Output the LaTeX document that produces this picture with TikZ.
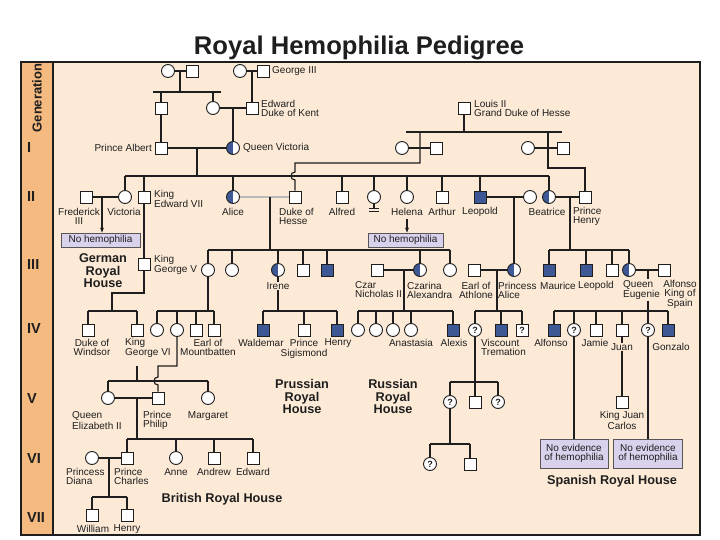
\documentclass[tikz,border=0pt]{standalone}
\usepackage{fontspec}
\setmainfont{Liberation Sans}
\usetikzlibrary{arrows.meta}
\pgfdeclarelayer{back}
\pgfdeclarelayer{lines}
\pgfsetlayers{back,lines,main}
\definecolor{peach}{RGB}{252,234,214}
\definecolor{orangecol}{RGB}{245,186,128}
\definecolor{hemo}{RGB}{62,88,150}
\definecolor{lav}{RGB}{218,210,236}
\definecolor{ink}{RGB}{30,30,30}
\newcommand\dropto[2]{\draw (#1) -- (#1 |- #2);}
\begin{document}
\begin{tikzpicture}[x=1pt,y=-1pt,
 sq/.style={draw=ink,line width=0.9pt,fill=white,minimum size=12pt,inner sep=0pt},
 ci/.style={draw=ink,line width=0.9pt,fill=white,circle,minimum size=13pt,inner sep=0pt},
 aff/.style={fill=hemo},
 car/.style={path picture={\fill[hemo] (path picture bounding box.south west) rectangle (path picture bounding box.north);}},
 unk/.style={font=\fontsize{9}{9}\selectfont\bfseries,text=ink},
 lbl/.style={font=\fontsize{10}{9}\selectfont,inner sep=0pt,text=ink},
 lc/.style={lbl,align=center},
 ll/.style={lbl,align=left,anchor=west},
 lr/.style={lbl,align=right,anchor=east},
 bgl/.style={fill=peach,inner sep=1pt},
 nobox/.style={draw=ink!75,fill=lav,line width=0.9pt,font=\fontsize{10}{9.5}\selectfont,align=center,inner sep=1pt,text=ink},
 house/.style={font=\fontsize{12.7}{12.5}\selectfont\bfseries,align=center,text=ink},
 genl/.style={font=\fontsize{14.5}{14.5}\selectfont\bfseries,anchor=west,text=ink,inner sep=0pt},
 lk/.style={draw=ink,line width=1.2pt},
 thk/.style={line width=2.4pt},
 arr/.style={-{Stealth[length=5pt,width=4pt]}},
]
\useasboundingbox (0,0) rectangle (720,540);
\begin{pgfonlayer}{back}
\fill[white] (0,0) rectangle (720,540);
\fill[peach] (21,62) rectangle (700,535);
\fill[orangecol] (21,62) rectangle (53,535);
\draw[ink,line width=1.2pt] (53,62) -- (53,535);
\draw[ink,line width=1.2pt] (21,62) rectangle (700,535);
\end{pgfonlayer}

% title and generation column
\node[font=\fontsize{25.6}{26}\selectfont\bfseries,text=ink,anchor=base] (title) at (359,55) {Royal Hemophilia Pedigree};
\node[rotate=90,font=\fontsize{13}{13}\selectfont\bfseries,text=ink] (gentitle) at (37,98) {Generation};
\node[genl] (gI) at (27,148) {I};
\node[genl] (gII) at (27,197) {II};
\node[genl] (gIII) at (27,265) {III};
\node[genl] (gIV) at (27,329) {IV};
\node[genl] (gV) at (27,399) {V};
\node[genl] (gVI) at (27,459) {VI};
\node[genl] (gVII) at (27,518) {VII};

% generation 0
\node[ci] (a1) at (168,71) {};
\node[sq] (a2) at (192,71) {};
\node[ci] (a3) at (240,71) {};
\node[sq] (g3) at (263,71) {};
\node[ll] (g3l) at (272,71) {George III};
\node[sq] (b1) at (161,108) {};
\node[ci] (b2) at (213,108) {};
\node[sq] (kent) at (252,108) {};
\node[ll] (kentl) at (261,108) {Edward\\Duke of Kent};
\node[sq] (louis) at (464,108) {};
\node[ll] (louisl) at (474,108) {Louis II\\Grand Duke of Hesse};

% generation I
\node[sq] (albert) at (161,148) {};
\node[lr] (albertl) at (152,148) {Prince Albert};
\node[ci,car] (qv) at (233,148) {};
\node[ll] (qvl) at (243,148) {Queen Victoria};
\node[ci] (h1) at (402,148) {};
\node[sq] (h2) at (436,148) {};
\node[ci] (h3) at (528,148) {};
\node[sq] (h4) at (563,148) {};

% generation II
\node[sq] (fred) at (86,197) {};
\node[ci] (vicg) at (125,197) {};
\node[sq] (edw7) at (144,197) {};
\node[ci,car] (alice) at (233,197) {};
\node[sq] (dukeh) at (295,197) {};
\node[sq] (alfred) at (342,197) {};
\node[ci] (nn) at (374,197) {};
\node[ci] (helena) at (407,197) {};
\node[sq] (arthur) at (442,197) {};
\node[sq,aff] (leo) at (480,197) {};
\node[ci] (leow) at (530,197) {};
\node[ci,car] (beat) at (549,197) {};
\node[sq] (henry) at (585,197) {};
\node[lc] (fredl) at (79,216.5) {Frederick\\III};
\node[lc] (vicgl) at (124,212) {Victoria};
\node[ll] (edw7l) at (154,199) {King\\Edward VII};
\node[lc] (alicel) at (233,212) {Alice};
\node[ll] (dukehl) at (279,216.5) {Duke of\\Hesse};
\node[lc] (alfredl) at (342,212) {Alfred};
\node[lc] (helenal) at (407,212) {Helena};
\node[lc] (arthurl) at (442,212) {Arthur};
\node[lc] (leol) at (480,212) {Leopold};
\node[lc] (beatl) at (547,212) {Beatrice};
\node[ll] (henryl) at (573,216.5) {Prince\\Henry};
\node[nobox,minimum width=79pt,minimum height=14pt] (nob1) at (100.5,240) {No hemophilia};
\node[nobox,minimum width=75pt,minimum height=14pt] (nob2) at (405.5,240) {No hemophilia};

% houses
\node[house] (german) at (103,271) {German\\Royal\\House};
\node[house] (prus) at (302,396.5) {Prussian\\Royal\\House};
\node[house] (russ) at (393,396.5) {Russian\\Royal\\House};
\node[house] (brit) at (222,499) {British Royal House};
\node[house] (span) at (612,481) {Spanish Royal House};

% generation III
\node[sq] (geo5) at (144,264) {};
\node[ll] (geo5l) at (154,265) {King\\George V};
\node[ci] (vich) at (208,270) {};
\node[ci] (ella) at (232,270) {};
\node[ci,car] (irene) at (278,270) {};
\node[sq] (ernst) at (303,270) {};
\node[sq,aff] (fritz) at (327,270) {};
\node[sq] (czar) at (377,270) {};
\node[ci,car] (czarina) at (420,270) {};
\node[ci] (c3) at (450,270) {};
\node[sq] (athl) at (474,270) {};
\node[ci,car] (palice) at (514,270) {};
\node[sq,aff] (maur) at (549,270) {};
\node[sq,aff] (leob) at (586,270) {};
\node[sq] (sqb) at (612,270) {};
\node[ci,car] (eug) at (629,270) {};
\node[sq] (alf13) at (664,270) {};
\node[lc,bgl] (irenel) at (278,286) {Irene};
\node[ll] (czarl) at (355,290) {Czar\\Nicholas II};
\node[ll] (czarinal) at (407,290) {Czarina\\Alexandra};
\node[lc] (athll) at (476,290) {Earl of\\Athlone};
\node[ll] (palicel) at (498,290) {Princess\\Alice};
\node[lc] (maurl) at (558,286) {Maurice};
\node[lc] (leobl) at (596,286) {Leopold};
\node[ll,bgl] (eugl) at (622,290) {Queen\\Eugenie};
\node[lc] (alf13l) at (680,294.5) {Alfonso\\King of\\Spain};

% generation IV
\node[sq] (windsor) at (88,330) {};
\node[sq] (geo6) at (137,330) {};
\node[ci] (bc1) at (157,330) {};
\node[ci] (aliceb) at (177,330) {};
\node[sq] (bs1) at (196,330) {};
\node[sq] (mountb) at (214,330) {};
\node[sq,aff] (wald) at (263,330) {};
\node[sq] (sigis) at (304,330) {};
\node[sq,aff] (henryh) at (337,330) {};
\node[ci] (r1) at (358,330) {};
\node[ci] (r2) at (376,330) {};
\node[ci] (r3) at (393,330) {};
\node[ci] (r4) at (411,330) {};
\node[sq,aff] (alexis) at (453,330) {};
\node[ci,unk] (qa) at (475,330) {?};
\node[sq,aff] (visc) at (501,330) {};
\node[sq,unk] (qsq) at (522,330) {?};
\node[sq,aff] (alfs) at (554,330) {};
\node[ci,unk] (qs1) at (574,330) {?};
\node[sq] (jaime) at (596,330) {};
\node[sq] (juan) at (622,330) {};
\node[ci,unk] (qs2) at (648,330) {?};
\node[sq,aff] (gonz) at (668,330) {};
\node[lc] (windsorl) at (92,347.5) {Duke of\\Windsor};
\node[ll] (geo6l) at (125,347.5) {King\\George VI};
\node[lc] (mountbl) at (208,347.5) {Earl of\\Mountbatten};
\node[lc] (waldl) at (261,343) {Waldemar};
\node[lc] (sigisl1) at (304,342.5) {Prince};
\node[lc] (sigisl2) at (304,353.5) {Sigismond};
\node[lc] (henryhl) at (338,343) {Henry};
\node[lc] (anastl) at (411,343) {Anastasia};
\node[lc] (alexisl) at (454,343) {Alexis};
\node[ll] (viscl) at (481,347.5) {Viscount\\Tremation};
\node[lc] (alfsl) at (551,343) {Alfonso};
\node[lc] (jaimel) at (595,343) {Jamie};
\node[lc,bgl] (juanl) at (622,347) {Juan};
\node[lc] (gonzl) at (671,347) {Gonzalo};

% generation V
\node[ci] (eliz) at (108,398) {};
\node[sq] (philip) at (158,398) {};
\node[ci] (marg) at (208,398) {};
\node[ll] (elizl) at (72,420.5) {Queen\\Elizabeth II};
\node[ll] (philipl) at (143,420.5) {Prince\\Philip};
\node[lc] (margl) at (208,416) {Margaret};
\node[ci,unk] (qv1) at (450,402) {?};
\node[sq] (sqv) at (475,402) {};
\node[ci,unk] (qv2) at (498,402) {?};
\node[sq] (jc) at (622,402) {};
\node[lc] (jcl) at (622,420.5) {King Juan\\Carlos};

% generation VI
\node[ci] (diana) at (92,458) {};
\node[sq] (charles) at (127,458) {};
\node[ci] (anne) at (176,458) {};
\node[sq] (andrew) at (214,458) {};
\node[sq] (edwardw) at (253,458) {};
\node[ll] (dianal) at (66,476.5) {Princess\\Diana};
\node[ll] (charlesl) at (114,476.5) {Prince\\Charles};
\node[lc] (annel) at (176,472) {Anne};
\node[lc] (andrewl) at (214,472) {Andrew};
\node[lc] (edwardwl) at (253,472) {Edward};
\node[ci,unk] (qw1) at (430,464) {?};
\node[sq] (sqw) at (470,464) {};
\node[nobox,minimum width=68pt,minimum height=29pt] (neb1) at (574,453.5) {No evidence\\of hemophilia};
\node[nobox,minimum width=69pt,minimum height=29pt] (neb2) at (648,453.5) {No evidence\\of hemophilia};

% generation VII
\node[sq] (william) at (92,515) {};
\node[sq] (harry) at (127,515) {};
\node[lc] (williaml) at (93,529) {William};
\node[lc] (harryl) at (127,529) {Henry};

% connectors
\begin{pgfonlayer}{lines}
\begin{scope}[lk]
\draw (a1) -- (a2);
\coordinate (ma) at (180,71);
\coordinate (s0l) at (153,92);
\coordinate (s0r) at (221,92);
\draw (ma) -- (ma |- s0l);
\draw (s0l) -- (s0r);
\dropto{b1}{s0l}
\dropto{b2}{s0l}
\draw (a3) -- (g3);
\coordinate (mb) at (252,71);
\draw (mb) -- (kent);
\draw (b2) -- (kent);
\coordinate (mc) at (233,108);
\draw (mc) -- (qv);
\draw (b1) -- (albert);
\draw (albert) -- (qv);
\coordinate (md) at (197,148);
\coordinate (s2l) at (125,176);
\coordinate (s2r) at (549,176);
\draw (md) -- (md |- s2l);
\draw (s2l) -- (s2r);
\foreach \n in {vicg,edw7,alice,alfred,nn,helena,arthur,leo,beat} {\dropto{\n}{s2l}}
% Hesse
\coordinate (s1l) at (406,132);
\coordinate (s1r) at (562,132);
\draw (louis) -- (louis |- s1l);
\draw (s1l) -- (s1r);
\draw (h1) -- (h2);
\draw (h3) -- (h4);
\coordinate (mh1) at (420,132);
\coordinate (jh1) at (420,163);
\coordinate (jh2) at (295,163);
\coordinate (hopa) at (295,172);
\coordinate (hopb) at (295,180);
\draw (mh1) -- (jh1) -- (jh2) -- (hopa) .. controls +(-5.3,0) and +(-5.3,0) .. (hopb) -- (dukeh);
\coordinate (mh2) at (548,132);
\coordinate (jh3) at (548,168);
\coordinate (jh4) at (585,168);
\draw (mh2) -- (jh3) -- (jh4) -- (henry);
% generation II couples
\draw (fred) -- (vicg);
\coordinate (mf) at (102,197);
\draw[arr] (mf) -- (mf |- nob1.north);
\coordinate (ha) at (407,219);
\draw[arr] (ha) -- (ha |- nob2.north);
\draw[double=gray!55,double distance=1.1pt,line width=0.8pt] (alice) -- (dukeh);
\coordinate (mad) at (270,197);
\coordinate (s3l) at (208,250);
\coordinate (s3r) at (450,250);
\draw (mad) -- (mad |- s3l);
\draw (s3l) -- (s3r);
\foreach \n in {vich,ella,irene,ernst,fritz,czarina,c3} {\dropto{\n}{s3l}}
\draw (leo) -- (leow);
\coordinate (ml) at (514,197);
\draw (ml) -- (palice);
\draw (beat) -- (henry);
\coordinate (mbh) at (570,197);
\coordinate (s3bl) at (549,250);
\coordinate (s3br) at (629,250);
\draw[thk] (mbh) -- (mbh |- s3bl);
\draw (s3bl) -- (s3br);
\foreach \n in {maur,sqb,eug} {\dropto{\n}{s3bl}}
\draw[thk] (leob) -- (leob |- s3bl);
% nn symbol
\coordinate (nnb) at (374,208.5);
\coordinate (nnc) at (374,211.5);
\draw (nn) -- (nnb);
\draw[line width=1pt] ([xshift=-5pt]nnb) -- ([xshift=5pt]nnb);
\draw[line width=1pt] ([xshift=-5pt]nnc) -- ([xshift=5pt]nnc);
% British / German
\draw (edw7) -- (geo5);
\coordinate (j51) at (144,293);
\coordinate (j52) at (112,293);
\coordinate (s4wl) at (88,311);
\coordinate (s4wr) at (137,311);
\draw (geo5) -- (j51) -- (j52) -- (j52 |- s4wl);
\draw (s4wl) -- (s4wr);
\dropto{windsor}{s4wl}
\dropto{geo6}{s4wl}
\coordinate (s4bl) at (157,311);
\coordinate (s4br) at (214,311);
\dropto{vich}{s4bl}
\draw (s4bl) -- (s4br);
\foreach \n in {bc1,aliceb,bs1,mountb} {\dropto{\n}{s4bl}}
% Prussian
\coordinate (s4pl) at (263,311);
\coordinate (s4pr) at (337,311);
\dropto{irene}{s4pl}
\draw (s4pl) -- (s4pr);
\foreach \n in {wald,sigis,henryh} {\dropto{\n}{s4pl}}
% Russian
\draw (czar) -- (czarina);
\coordinate (mcz) at (404,270);
\coordinate (s4rl) at (358,311);
\coordinate (s4rr) at (453,311);
\draw (mcz) -- (mcz |- s4rl);
\draw (s4rl) -- (s4rr);
\foreach \n in {r1,r2,r3,r4,alexis} {\dropto{\n}{s4rl}}
% Athlone
\draw (athl) -- (palice);
\coordinate (mat) at (497,270);
\coordinate (s4al) at (475,311);
\coordinate (s4ar) at (522,311);
\draw (mat) -- (mat |- s4al);
\draw (s4al) -- (s4ar);
\foreach \n in {qa,visc,qsq} {\dropto{\n}{s4al}}
\coordinate (s5al) at (450,382);
\coordinate (s5ar) at (498,382);
\dropto{qa}{s5al}
\draw (s5al) -- (s5ar);
\foreach \n in {qv1,sqv,qv2} {\dropto{\n}{s5al}}
\coordinate (s6al) at (430,444);
\coordinate (s6ar) at (470,444);
\dropto{qv1}{s6al}
\draw (s6al) -- (s6ar);
\dropto{qw1}{s6al}
\dropto{sqw}{s6al}
% Spanish
\draw (eug) -- (alf13);
\coordinate (meu) at (648,270);
\coordinate (s4sl) at (554,311);
\coordinate (s4sr) at (668,311);
\draw[thk] (meu) -- (meu |- s4sl);
\draw (s4sl) -- (s4sr);
\foreach \n in {alfs,qs1,jaime,juan,gonz} {\dropto{\n}{s4sl}}
\draw[thk] (qs2) -- (qs2 |- s4sl);
\draw (qs1) -- (neb1);
\draw[thk] (qs2) -- (neb2);
\draw (juan) -- (jc);
% Philip
\coordinate (jp1) at (177,366);
\coordinate (jp2) at (158,366);
\coordinate (hp1) at (158,377);
\coordinate (hp2) at (158,385);
\draw (aliceb) -- (jp1) -- (jp2) -- (hp1) .. controls +(-5.3,0) and +(-5.3,0) .. (hp2) -- (philip);
% generation V British
\coordinate (g6a) at (137,366);
\coordinate (s5l) at (108,381);
\coordinate (s5r) at (208,381);
\draw (g6a) -- (g6a |- s5l);
\draw (s5l) -- (s5r);
\dropto{eliz}{s5l}
\dropto{marg}{s5l}
\draw (eliz) -- (philip);
\coordinate (mep) at (137,398);
\coordinate (s6l) at (127,439);
\coordinate (s6r) at (253,439);
\draw (mep) -- (mep |- s6l);
\draw (s6l) -- (s6r);
\foreach \n in {charles,anne,andrew,edwardw} {\dropto{\n}{s6l}}
\draw (diana) -- (charles);
\coordinate (mdc) at (109,458);
\coordinate (s7l) at (92,497);
\coordinate (s7r) at (127,497);
\draw (mdc) -- (mdc |- s7l);
\draw (s7l) -- (s7r);
\dropto{william}{s7l}
\dropto{harry}{s7l}
\end{scope}
\end{pgfonlayer}
\end{tikzpicture}
\end{document}
